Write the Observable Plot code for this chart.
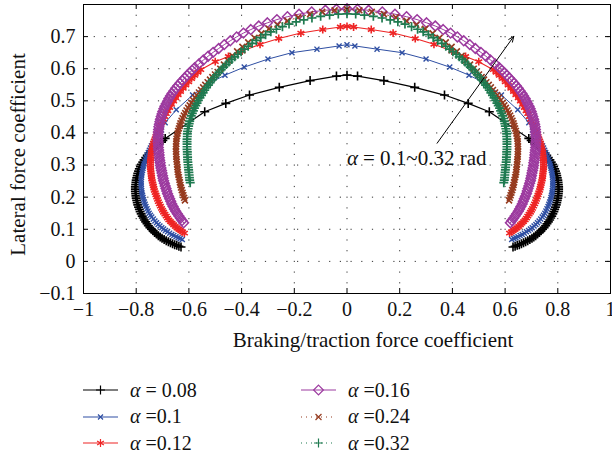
<!DOCTYPE html>
<html><head><meta charset="utf-8">
<script src="https://cdn.jsdelivr.net/npm/d3@7"></script>
<script src="https://cdn.jsdelivr.net/npm/@observablehq/plot@0.6"></script>
<style>
body{margin:0;background:#fff;}
#wrap{position:relative;width:612px;height:460px;overflow:hidden;font-family:"Liberation Serif",serif;}
.leg{position:absolute;height:26px;display:flex;align-items:center;font-size:20px;color:#111;white-space:pre;}
.leg svg{margin-right:12px;}
</style></head><body><div id="wrap"></div>
<script>
// ---------- data ----------
const legendLabels = ["= 0.08", "=0.1", "=0.12", "=0.16", "=0.24", "=0.32"];
const xTicks = [-1, -0.8, -0.6, -0.4, -0.2, 0, 0.2, 0.4, 0.6, 0.8, 1];
const yTicks = [-0.1, 0, 0.1, 0.2, 0.3, 0.4, 0.5, 0.6, 0.7];
const xLabel = "Braking/traction force coefficient";
const yLabel = "Lateral force coefficient";
const noteText = "= 0.1~0.32 rad";
const notePos = [{x: 0.0, y: 0.322}];
const noteArrow = [{x1: 0.342, y1: 0.368, x2: 0.633, y2: 0.701}];

const alpha008 = [
[-0.630,0.045],[-0.638,0.047],[-0.646,0.050],[-0.654,0.052],[-0.662,0.055],[-0.670,0.058],[-0.678,0.061],[-0.686,0.064],[-0.694,0.068],[-0.702,0.072],[-0.709,0.076],[-0.716,0.080],[-0.723,0.085],[-0.730,0.090],[-0.736,0.095],[-0.742,0.100],[-0.748,0.105],[-0.754,0.111],[-0.759,0.117],[-0.764,0.123],[-0.769,0.129],[-0.773,0.135],[-0.777,0.141],[-0.781,0.148],[-0.785,0.155],[-0.788,0.162],[-0.791,0.169],[-0.794,0.176],[-0.796,0.183],[-0.798,0.190],[-0.800,0.197],[-0.801,0.204],[-0.802,0.211],[-0.803,0.218],[-0.803,0.225],[-0.803,0.232],[-0.802,0.239],[-0.801,0.246],[-0.800,0.253],[-0.798,0.260],[-0.796,0.267],[-0.794,0.274],[-0.791,0.281],[-0.788,0.288],[-0.784,0.295],[-0.780,0.302],[-0.775,0.309],[-0.770,0.316],[-0.764,0.323],[-0.758,0.330],[-0.751,0.337],[-0.743,0.344],[-0.735,0.351],[-0.726,0.358],[-0.717,0.365],[-0.708,0.371],[-0.699,0.377],[-0.690,0.383],
[-0.540,0.466],[-0.460,0.492],[-0.370,0.518],[-0.257,0.542],[-0.140,0.563],[-0.040,0.577],[0.000,0.580],[0.040,0.577],[0.140,0.563],[0.257,0.542],[0.370,0.518],[0.460,0.492],[0.540,0.466],
[0.690,0.383],[0.699,0.377],[0.708,0.371],[0.717,0.365],[0.726,0.358],[0.735,0.351],[0.743,0.344],[0.751,0.337],[0.758,0.330],[0.764,0.323],[0.770,0.316],[0.775,0.309],[0.780,0.302],[0.784,0.295],[0.788,0.288],[0.791,0.281],[0.794,0.274],[0.796,0.267],[0.798,0.260],[0.800,0.253],[0.801,0.246],[0.802,0.239],[0.803,0.232],[0.803,0.225],[0.803,0.218],[0.802,0.211],[0.801,0.204],[0.800,0.197],[0.798,0.190],[0.796,0.183],[0.794,0.176],[0.791,0.169],[0.788,0.162],[0.785,0.155],[0.781,0.148],[0.777,0.141],[0.773,0.135],[0.769,0.129],[0.764,0.123],[0.759,0.117],[0.754,0.111],[0.748,0.105],[0.742,0.100],[0.736,0.095],[0.730,0.090],[0.723,0.085],[0.716,0.080],[0.709,0.076],[0.702,0.072],[0.694,0.068],[0.686,0.064],[0.678,0.061],[0.670,0.058],[0.662,0.055],[0.654,0.052],[0.646,0.050],[0.638,0.047],[0.630,0.045]];

const alpha010 = [
[-0.625,0.068],[-0.633,0.071],[-0.641,0.074],[-0.649,0.077],[-0.657,0.081],[-0.665,0.084],[-0.673,0.088],[-0.681,0.092],[-0.689,0.096],[-0.696,0.101],[-0.703,0.105],[-0.710,0.110],[-0.717,0.115],[-0.723,0.120],[-0.729,0.126],[-0.735,0.132],[-0.741,0.138],[-0.746,0.144],[-0.751,0.150],[-0.755,0.157],[-0.759,0.164],[-0.763,0.171],[-0.766,0.178],[-0.769,0.185],[-0.772,0.192],[-0.774,0.199],[-0.776,0.206],[-0.778,0.213],[-0.779,0.220],[-0.780,0.227],[-0.781,0.234],[-0.781,0.241],[-0.781,0.248],[-0.781,0.255],[-0.780,0.262],[-0.779,0.269],[-0.778,0.276],[-0.776,0.283],[-0.774,0.290],[-0.772,0.297],[-0.770,0.304],[-0.767,0.311],[-0.764,0.318],[-0.761,0.325],[-0.758,0.332],[-0.754,0.339],[-0.750,0.346],[-0.746,0.353],[-0.742,0.360],[-0.737,0.367],[-0.732,0.374],[-0.727,0.381],[-0.722,0.388],[-0.716,0.395],[-0.710,0.402],[-0.704,0.409],
[-0.690,0.432],[-0.648,0.472],[-0.586,0.518],[-0.523,0.555],[-0.463,0.580],[-0.390,0.605],[-0.300,0.630],[-0.209,0.650],[-0.114,0.661],[-0.030,0.671],[0.000,0.675],[0.030,0.671],[0.114,0.661],[0.209,0.650],[0.300,0.630],[0.390,0.605],[0.463,0.580],[0.523,0.555],[0.586,0.518],[0.648,0.472],[0.690,0.432],
[0.704,0.409],[0.710,0.402],[0.716,0.395],[0.722,0.388],[0.727,0.381],[0.732,0.374],[0.737,0.367],[0.742,0.360],[0.746,0.353],[0.750,0.346],[0.754,0.339],[0.758,0.332],[0.761,0.325],[0.764,0.318],[0.767,0.311],[0.770,0.304],[0.772,0.297],[0.774,0.290],[0.776,0.283],[0.778,0.276],[0.779,0.269],[0.780,0.262],[0.781,0.255],[0.781,0.248],[0.781,0.241],[0.781,0.234],[0.780,0.227],[0.779,0.220],[0.778,0.213],[0.776,0.206],[0.774,0.199],[0.772,0.192],[0.769,0.185],[0.766,0.178],[0.763,0.171],[0.759,0.164],[0.755,0.157],[0.751,0.150],[0.746,0.144],[0.741,0.138],[0.735,0.132],[0.729,0.126],[0.723,0.120],[0.717,0.115],[0.710,0.110],[0.703,0.105],[0.696,0.101],[0.689,0.096],[0.681,0.092],[0.673,0.088],[0.665,0.084],[0.657,0.081],[0.649,0.077],[0.641,0.074],[0.633,0.071],[0.625,0.068]];

const alpha012 = [
[-0.617,0.088],[-0.624,0.092],[-0.631,0.096],[-0.638,0.100],[-0.645,0.104],[-0.652,0.109],[-0.658,0.114],[-0.664,0.119],[-0.670,0.124],[-0.676,0.129],[-0.681,0.135],[-0.686,0.141],[-0.691,0.147],[-0.696,0.153],[-0.700,0.159],[-0.704,0.165],[-0.708,0.172],[-0.712,0.179],[-0.716,0.186],[-0.719,0.193],[-0.722,0.200],[-0.725,0.207],[-0.728,0.214],[-0.731,0.221],[-0.733,0.228],[-0.735,0.235],[-0.737,0.242],[-0.739,0.249],[-0.741,0.256],[-0.742,0.263],[-0.743,0.270],[-0.744,0.277],[-0.745,0.284],[-0.746,0.291],[-0.746,0.298],[-0.746,0.305],[-0.746,0.312],[-0.745,0.319],[-0.744,0.326],[-0.743,0.333],[-0.742,0.340],[-0.740,0.347],[-0.738,0.354],[-0.736,0.361],[-0.734,0.368],[-0.731,0.375],[-0.728,0.382],[-0.725,0.389],[-0.722,0.396],[-0.719,0.403],[-0.715,0.410],[-0.711,0.418],[-0.707,0.426],[-0.702,0.434],[-0.697,0.442],[-0.692,0.451],[-0.686,0.460],[-0.680,0.469],[-0.673,0.479],[-0.666,0.489],[-0.658,0.499],[-0.650,0.509],[-0.641,0.519],[-0.632,0.529],[-0.622,0.539],[-0.612,0.549],[-0.601,0.559],[-0.590,0.569],[-0.578,0.579],[-0.566,0.589],[-0.555,0.597],
[-0.500,0.622],[-0.450,0.638],[-0.398,0.655],[-0.330,0.676],[-0.259,0.694],[-0.175,0.711],[-0.092,0.722],[-0.025,0.730],[0.000,0.732],[0.025,0.730],[0.092,0.722],[0.175,0.711],[0.259,0.694],[0.330,0.676],[0.398,0.655],[0.450,0.638],[0.500,0.622],
[0.555,0.597],[0.566,0.589],[0.578,0.579],[0.590,0.569],[0.601,0.559],[0.612,0.549],[0.622,0.539],[0.632,0.529],[0.641,0.519],[0.650,0.509],[0.658,0.499],[0.666,0.489],[0.673,0.479],[0.680,0.469],[0.686,0.460],[0.692,0.451],[0.697,0.442],[0.702,0.434],[0.707,0.426],[0.711,0.418],[0.715,0.410],[0.719,0.403],[0.722,0.396],[0.725,0.389],[0.728,0.382],[0.731,0.375],[0.734,0.368],[0.736,0.361],[0.738,0.354],[0.740,0.347],[0.742,0.340],[0.743,0.333],[0.744,0.326],[0.745,0.319],[0.746,0.312],[0.746,0.305],[0.746,0.298],[0.746,0.291],[0.745,0.284],[0.744,0.277],[0.743,0.270],[0.742,0.263],[0.741,0.256],[0.739,0.249],[0.737,0.242],[0.735,0.235],[0.733,0.228],[0.731,0.221],[0.728,0.214],[0.725,0.207],[0.722,0.200],[0.719,0.193],[0.716,0.186],[0.712,0.179],[0.708,0.172],[0.704,0.165],[0.700,0.159],[0.696,0.153],[0.691,0.147],[0.686,0.141],[0.681,0.135],[0.676,0.129],[0.670,0.124],[0.664,0.119],[0.658,0.114],[0.652,0.109],[0.645,0.104],[0.638,0.100],[0.631,0.096],[0.624,0.092],[0.617,0.088]];

const alpha016 = [
[-0.620,0.120],[-0.626,0.127],[-0.632,0.134],[-0.638,0.141],[-0.644,0.148],[-0.650,0.156],[-0.655,0.163],[-0.660,0.171],[-0.665,0.179],[-0.669,0.187],[-0.673,0.195],[-0.677,0.203],[-0.681,0.211],[-0.684,0.219],[-0.687,0.227],[-0.690,0.235],[-0.693,0.243],[-0.696,0.251],[-0.698,0.259],[-0.700,0.267],[-0.702,0.275],[-0.704,0.283],[-0.706,0.291],[-0.708,0.299],[-0.709,0.307],[-0.711,0.315],[-0.712,0.323],[-0.713,0.331],[-0.714,0.339],[-0.715,0.347],[-0.716,0.355],[-0.716,0.363],[-0.717,0.371],[-0.717,0.379],[-0.717,0.387],[-0.716,0.395],[-0.716,0.403],[-0.715,0.411],[-0.714,0.419],[-0.712,0.427],[-0.710,0.435],[-0.708,0.443],[-0.705,0.451],[-0.702,0.459],[-0.699,0.467],[-0.695,0.475],[-0.691,0.483],[-0.686,0.491],[-0.681,0.499],[-0.676,0.507],[-0.670,0.515],[-0.664,0.523],[-0.657,0.531],[-0.650,0.539],[-0.642,0.547],[-0.634,0.555],[-0.625,0.563],[-0.616,0.571],[-0.607,0.579],[-0.598,0.587],[-0.588,0.595],[-0.578,0.603],[-0.562,0.615],[-0.545,0.627],[-0.527,0.639],[-0.508,0.651],[-0.487,0.663],[-0.466,0.675],[-0.443,0.687],[-0.419,0.699],[-0.393,0.711],[-0.365,0.722],[-0.335,0.733],[-0.302,0.743],[-0.266,0.753],[-0.226,0.762],[-0.182,0.770],[-0.134,0.777],[-0.082,0.782],[-0.040,0.785],[0.000,0.787],
[0.040,0.785],[0.082,0.782],[0.134,0.777],[0.182,0.770],[0.226,0.762],[0.266,0.753],[0.302,0.743],[0.335,0.733],[0.365,0.722],[0.393,0.711],[0.419,0.699],[0.443,0.687],[0.466,0.675],[0.487,0.663],[0.508,0.651],[0.527,0.639],[0.545,0.627],[0.562,0.615],[0.578,0.603],[0.588,0.595],[0.598,0.587],[0.607,0.579],[0.616,0.571],[0.625,0.563],[0.634,0.555],[0.642,0.547],[0.650,0.539],[0.657,0.531],[0.664,0.523],[0.670,0.515],[0.676,0.507],[0.681,0.499],[0.686,0.491],[0.691,0.483],[0.695,0.475],[0.699,0.467],[0.702,0.459],[0.705,0.451],[0.708,0.443],[0.710,0.435],[0.712,0.427],[0.714,0.419],[0.715,0.411],[0.716,0.403],[0.716,0.395],[0.717,0.387],[0.717,0.379],[0.717,0.371],[0.716,0.363],[0.716,0.355],[0.715,0.347],[0.714,0.339],[0.713,0.331],[0.712,0.323],[0.711,0.315],[0.709,0.307],[0.708,0.299],[0.706,0.291],[0.704,0.283],[0.702,0.275],[0.700,0.267],[0.698,0.259],[0.696,0.251],[0.693,0.243],[0.690,0.235],[0.687,0.227],[0.684,0.219],[0.681,0.211],[0.677,0.203],[0.673,0.195],[0.669,0.187],[0.665,0.179],[0.660,0.171],[0.655,0.163],[0.650,0.156],[0.644,0.148],[0.638,0.141],[0.632,0.134],[0.626,0.127],[0.620,0.120]];

const alpha024 = [
[-0.615,0.190],[-0.618,0.198],[-0.621,0.206],[-0.624,0.214],[-0.627,0.222],[-0.630,0.230],[-0.632,0.238],[-0.634,0.246],[-0.636,0.254],[-0.638,0.262],[-0.640,0.270],[-0.642,0.278],[-0.643,0.286],[-0.644,0.294],[-0.645,0.302],[-0.646,0.310],[-0.647,0.318],[-0.648,0.326],[-0.648,0.334],[-0.649,0.342],[-0.649,0.350],[-0.649,0.358],[-0.648,0.366],[-0.648,0.374],[-0.647,0.382],[-0.645,0.390],[-0.643,0.398],[-0.641,0.406],[-0.638,0.414],[-0.635,0.422],[-0.632,0.430],[-0.628,0.438],[-0.624,0.446],[-0.619,0.454],[-0.614,0.462],[-0.609,0.470],[-0.603,0.478],[-0.597,0.486],[-0.591,0.494],[-0.584,0.502],[-0.577,0.510],[-0.570,0.518],[-0.562,0.526],[-0.554,0.534],[-0.546,0.542],[-0.538,0.550],[-0.529,0.558],[-0.520,0.566],[-0.511,0.574],[-0.501,0.582],[-0.491,0.590],[-0.481,0.600],[-0.467,0.613],[-0.452,0.626],[-0.435,0.640],[-0.417,0.654],[-0.397,0.668],[-0.375,0.682],[-0.351,0.696],[-0.325,0.710],[-0.296,0.724],[-0.263,0.737],[-0.226,0.749],[-0.185,0.760],[-0.140,0.770],[-0.094,0.777],[-0.047,0.782],[0.000,0.785],
[0.047,0.782],[0.094,0.777],[0.140,0.770],[0.185,0.760],[0.226,0.749],[0.263,0.737],[0.296,0.724],[0.325,0.710],[0.351,0.696],[0.375,0.682],[0.397,0.668],[0.417,0.654],[0.435,0.640],[0.452,0.626],[0.467,0.613],[0.481,0.600],[0.491,0.590],[0.501,0.582],[0.511,0.574],[0.520,0.566],[0.529,0.558],[0.538,0.550],[0.546,0.542],[0.554,0.534],[0.562,0.526],[0.570,0.518],[0.577,0.510],[0.584,0.502],[0.591,0.494],[0.597,0.486],[0.603,0.478],[0.609,0.470],[0.614,0.462],[0.619,0.454],[0.624,0.446],[0.628,0.438],[0.632,0.430],[0.635,0.422],[0.638,0.414],[0.641,0.406],[0.643,0.398],[0.645,0.390],[0.647,0.382],[0.648,0.374],[0.648,0.366],[0.649,0.358],[0.649,0.350],[0.649,0.342],[0.648,0.334],[0.648,0.326],[0.647,0.318],[0.646,0.310],[0.645,0.302],[0.644,0.294],[0.643,0.286],[0.642,0.278],[0.640,0.270],[0.638,0.262],[0.636,0.254],[0.634,0.246],[0.632,0.238],[0.630,0.230],[0.627,0.222],[0.624,0.214],[0.621,0.206],[0.618,0.198],[0.615,0.190]];

const alpha032 = [
[-0.595,0.245],[-0.597,0.253],[-0.598,0.261],[-0.599,0.269],[-0.600,0.277],[-0.601,0.285],[-0.602,0.293],[-0.603,0.301],[-0.604,0.309],[-0.605,0.317],[-0.605,0.325],[-0.606,0.333],[-0.606,0.341],[-0.607,0.349],[-0.607,0.357],[-0.607,0.365],[-0.607,0.373],[-0.607,0.381],[-0.606,0.389],[-0.606,0.397],[-0.605,0.405],[-0.603,0.413],[-0.601,0.421],[-0.599,0.429],[-0.597,0.437],[-0.594,0.445],[-0.591,0.453],[-0.587,0.461],[-0.583,0.469],[-0.579,0.477],[-0.574,0.485],[-0.569,0.493],[-0.564,0.501],[-0.558,0.509],[-0.552,0.517],[-0.546,0.525],[-0.540,0.533],[-0.533,0.541],[-0.526,0.549],[-0.519,0.557],[-0.511,0.565],[-0.503,0.573],[-0.495,0.581],[-0.486,0.589],[-0.477,0.597],[-0.468,0.605],[-0.458,0.613],[-0.448,0.621],[-0.437,0.629],[-0.426,0.637],[-0.414,0.645],[-0.402,0.653],[-0.389,0.661],[-0.375,0.670],[-0.360,0.679],[-0.344,0.688],[-0.327,0.697],[-0.309,0.706],[-0.289,0.715],[-0.268,0.723],[-0.245,0.731],[-0.220,0.739],[-0.193,0.746],[-0.164,0.752],[-0.133,0.758],[-0.100,0.763],[-0.066,0.767],[-0.033,0.770],[0.000,0.771],
[0.033,0.770],[0.066,0.767],[0.100,0.763],[0.133,0.758],[0.164,0.752],[0.193,0.746],[0.220,0.739],[0.245,0.731],[0.268,0.723],[0.289,0.715],[0.309,0.706],[0.327,0.697],[0.344,0.688],[0.360,0.679],[0.375,0.670],[0.389,0.661],[0.402,0.653],[0.414,0.645],[0.426,0.637],[0.437,0.629],[0.448,0.621],[0.458,0.613],[0.468,0.605],[0.477,0.597],[0.486,0.589],[0.495,0.581],[0.503,0.573],[0.511,0.565],[0.519,0.557],[0.526,0.549],[0.533,0.541],[0.540,0.533],[0.546,0.525],[0.552,0.517],[0.558,0.509],[0.564,0.501],[0.569,0.493],[0.574,0.485],[0.579,0.477],[0.583,0.469],[0.587,0.461],[0.591,0.453],[0.594,0.445],[0.597,0.437],[0.599,0.429],[0.601,0.421],[0.603,0.413],[0.605,0.405],[0.606,0.397],[0.606,0.389],[0.607,0.381],[0.607,0.373],[0.607,0.365],[0.607,0.357],[0.607,0.349],[0.606,0.341],[0.606,0.333],[0.605,0.325],[0.605,0.317],[0.604,0.309],[0.603,0.301],[0.602,0.293],[0.601,0.285],[0.600,0.277],[0.599,0.269],[0.598,0.261],[0.597,0.253],[0.595,0.245]];

// ---------- styles ----------
const seriesData = [alpha008, alpha010, alpha012, alpha016, alpha024, alpha032];
const styles = [
  {color: "#000000", symbol: "plus",     r: 3.0, sw: 1.6, dash: null,  lw: 1.2},
  {color: "#2f4fa3", symbol: "times",    r: 2.4, sw: 1.4, dash: null,  lw: 1.0},
  {color: "#ee2424", symbol: "asterisk", r: 3.7, sw: 1.6, dash: null,  lw: 1.1},
  {color: "#9c3a9f", symbol: "diamond2", r: 4.4, sw: 1.5, dash: null,  lw: 1.0},
  {color: "#953a1e", symbol: "times",    r: 2.8, sw: 1.6, dash: "1,3", lw: 1.0},
  {color: "#1f7a50", symbol: "plus",     r: 3.0, sw: 1.7, dash: "1,3", lw: 1.0}
];

const W = 612, H = 360, mL = 83, mR = 2, mT = 4, mB = 67;
const FW = W - mL - mR, FH = H - mT - mB;
const fmt = d3.format("~g");
const xGrid = xTicks.slice(1, -1);
const yGrid = yTicks.slice(1);

const marks = [
  Plot.ruleX(xGrid, {stroke: "#333", strokeWidth: 1, strokeDasharray: "1.2,9.5"}),
  Plot.ruleY(yGrid, {stroke: "#333", strokeWidth: 1, strokeDasharray: "1.2,9.5"})
];
seriesData.forEach((d, i) => {
  const s = styles[i];
  marks.push(Plot.line(d, {x: p => p[0], y: p => p[1], stroke: s.color, strokeWidth: s.lw, strokeDasharray: s.dash}));
  marks.push(Plot.dot(d, {x: p => p[0], y: p => p[1], symbol: s.symbol, r: s.r, stroke: s.color, strokeWidth: s.sw}));
});
marks.push(
  Plot.frame({stroke: "#000", strokeWidth: 1}),
  Plot.ruleX(xTicks, {stroke: "#000", insetTop: FH - 5}),
  Plot.ruleX(xTicks, {stroke: "#000", insetBottom: FH - 5}),
  Plot.ruleY(yTicks, {stroke: "#000", insetLeft: FW - 5}),
  Plot.ruleY(yTicks, {stroke: "#000", insetRight: FW - 5}),
  Plot.axisX({ticks: xTicks, tickSize: 0, tickPadding: 8, tickFormat: fmt, label: null, fontSize: 20}),
  Plot.axisY({ticks: yTicks, tickSize: 0, tickPadding: 8, tickFormat: fmt, label: null, fontSize: 20}),
  Plot.text([xLabel], {frameAnchor: "bottom", lineAnchor: "middle", textAnchor: "middle", dx: 26, dy: 47, fontSize: 21, fill: "#111"}),
  Plot.text([yLabel], {frameAnchor: "left", lineAnchor: "middle", textAnchor: "middle", rotate: -90, dx: -65.5, dy: 5.5, fontSize: 21, fill: "#111"}),
  Plot.arrow(noteArrow, {x1: "x1", y1: "y1", x2: "x2", y2: "y2", stroke: "#000", strokeWidth: 1, headLength: 9, headAngle: 45}),
  Plot.text(notePos, {x: "x", y: "y", text: () => "α", fontStyle: "italic", textAnchor: "start", fontSize: 21, fill: "#111"}),
  Plot.text(notePos, {x: "x", y: "y", text: () => noteText, textAnchor: "start", dx: 16, fontSize: 21, fill: "#111"})
);

const chart = Plot.plot({
  width: W, height: H,
  marginLeft: mL, marginRight: mR, marginTop: mT, marginBottom: mB,
  x: {domain: [-1, 1]},
  y: {domain: [-0.1, 0.8]},
  style: {fontFamily: "Liberation Serif, serif", fontSize: "20px", color: "#111", background: "#fff"},
  marks
});
const wrap = document.getElementById("wrap");
wrap.appendChild(chart);

// ---------- legend ----------
const legPos = [[83, 390], [83, 416.7], [83, 443.3], [301, 390], [301, 416.7], [301, 443.3]];
const symMap = {plus: d3.symbolPlus, times: d3.symbolTimes, asterisk: d3.symbolAsterisk, diamond2: d3.symbolDiamond2};
legendLabels.forEach((lab, i) => {
  const s = styles[i];
  const div = document.createElement("div");
  div.className = "leg";
  div.style.left = legPos[i][0] + "px";
  div.style.top = (legPos[i][1] - 13) + "px";
  const path = d3.symbol(symMap[s.symbol], Math.PI * s.r * s.r)();
  div.innerHTML = `<svg width="35" height="16" viewBox="0 0 35 16">
    <line x1="0" x2="35" y1="8" y2="8" stroke="${s.color}" stroke-width="1.2" ${s.dash ? `stroke-dasharray="1,4"` : ""}/>
    <path d="${path}" transform="translate(17.5,8)" fill="none" stroke="${s.color}" stroke-width="1.2"/>
  </svg><span><i>α</i> ${lab}</span>`;
  wrap.appendChild(div);
});
</script></body></html>
